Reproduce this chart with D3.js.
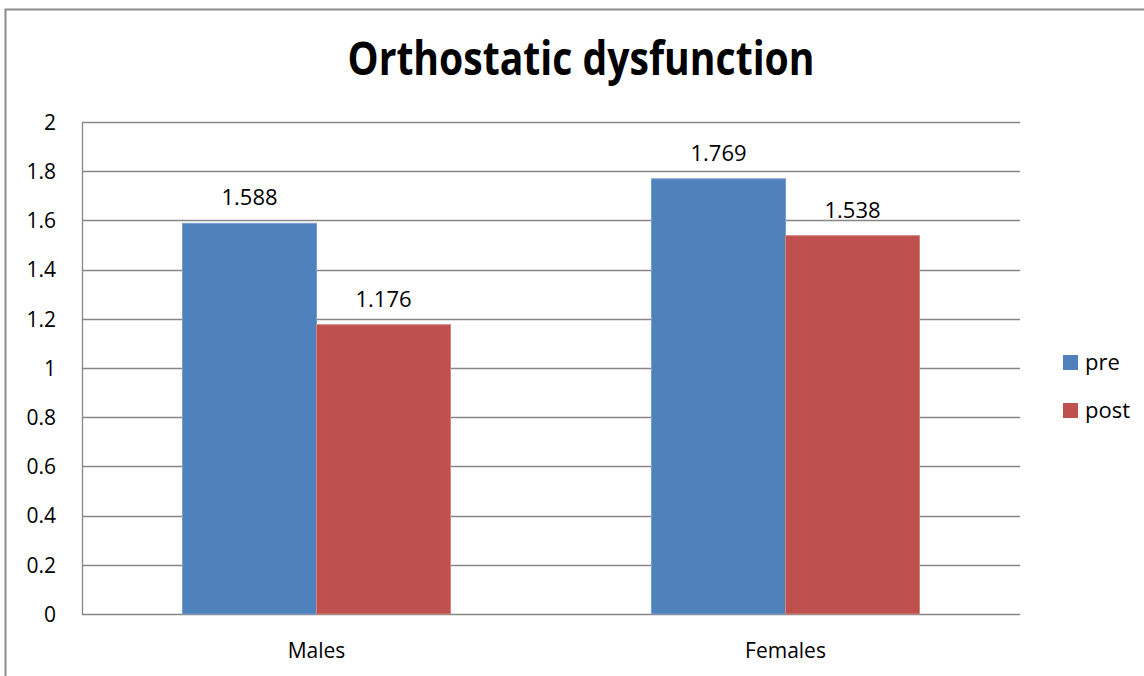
<!DOCTYPE html>
<html>
<head>
<meta charset="utf-8">
<script src="https://cdn.jsdelivr.net/npm/d3@7"></script>
<style>
  body { margin: 0; background: #fff; }
  svg text { font-family: "Open Sans", "Liberation Sans", sans-serif; fill: #000; }
</style>
</head>
<body>
<div id="chart"></div>
<script>
// data
const categories = ['Males', 'Females'];
const seriesNames = ['pre', 'post'];
const preValues = [1.588, 1.769];
const postValues = [1.176, 1.538];
const yTicks = [0, 0.2, 0.4, 0.6, 0.8, 1, 1.2, 1.4, 1.6, 1.8, 2];
const colors = ['#4F81BD', '#C0504D'];
const strokes = ['#7A9CCF', '#D08683'];

const width = 1144, height = 676;
const plot = { left: 82, right: 1020, top: 122, bottom: 614 };

const svg = d3.select('#chart').append('svg')
  .attr('width', width)
  .attr('height', height);

// outer chart border (runs off the right / bottom edge)
svg.append('rect')
  .attr('x', 5.5).attr('y', 9.5)
  .attr('width', 1200).attr('height', 800)
  .attr('fill', 'none')
  .attr('stroke', '#8c8c8c')
  .attr('stroke-width', 2);

const y = d3.scaleLinear().domain([0, 2]).range([plot.bottom, plot.top]);
const x0 = d3.scaleBand().domain(categories).range([plot.left, plot.right]);
const bw = x0.bandwidth();
const gap = bw * 1.5 / 3.5; // excel gap width 150%
const x1 = d3.scaleBand().domain(seriesNames).range([gap / 2, bw - gap / 2]);

// gridlines
svg.append('g')
  .selectAll('line')
  .data(yTicks)
  .join('line')
  .attr('x1', plot.left).attr('x2', plot.right)
  .attr('y1', d => Math.round(y(d)) + 0.5)
  .attr('y2', d => Math.round(y(d)) + 0.5)
  .attr('stroke', '#868686')
  .attr('stroke-width', 1.3);

// y axis line
svg.append('line')
  .attr('x1', plot.left + 0.5).attr('x2', plot.left + 0.5)
  .attr('y1', plot.top).attr('y2', plot.bottom + 1)
  .attr('stroke', '#868686')
  .attr('stroke-width', 1.3);

// y tick labels
const yAxis = d3.axisLeft(y).tickValues(yTicks).tickSize(0).tickPadding(26).tickFormat(d3.format('~g'));
const gy = svg.append('g')
  .attr('transform', 'translate(' + plot.left + ',0)')
  .call(yAxis);
gy.select('.domain').remove();
gy.selectAll('text')
  .style('font-size', '21px')
  .attr('dy', '0.35em');

// bars
const rows = categories.map((c, i) => ({ cat: c, vals: [preValues[i], postValues[i]] }));
const groups = svg.append('g')
  .selectAll('g')
  .data(rows)
  .join('g')
  .attr('transform', d => 'translate(' + x0(d.cat) + ',0)');

groups.selectAll('rect')
  .data(d => d.vals.map((v, j) => ({ key: seriesNames[j], v: v, j: j })))
  .join('rect')
  .attr('x', d => x1(d.key))
  .attr('y', d => y(d.v))
  .attr('width', x1.bandwidth())
  .attr('height', d => y(0) - y(d.v))
  .attr('fill', d => colors[d.j])
  .attr('stroke', d => strokes[d.j])
  .attr('stroke-width', 1);

// value labels
groups.selectAll('text')
  .data(d => d.vals.map((v, j) => ({ key: seriesNames[j], v: v })))
  .join('text')
  .attr('x', d => x1(d.key) + x1.bandwidth() / 2)
  .attr('y', d => y(d.v) - 18)
  .attr('text-anchor', 'middle')
  .style('font-size', '22px')
  .text(d => d3.format('.3f')(d.v));

// x category labels
svg.append('g')
  .selectAll('text')
  .data(categories)
  .join('text')
  .attr('x', d => x0(d) + bw / 2)
  .attr('y', 658)
  .attr('text-anchor', 'middle')
  .style('font-size', '21px')
  .text(d => d);

// title
svg.append('text')
  .attr('x', 581)
  .attr('y', 75)
  .attr('text-anchor', 'middle')
  .attr('textLength', 467)
  .attr('lengthAdjust', 'spacingAndGlyphs')
  .style('font-size', '46px')
  .style('font-weight', 'bold')
  .text('Orthostatic dysfunction');

// legend
const legend = svg.append('g')
  .selectAll('g')
  .data(seriesNames)
  .join('g')
  .attr('transform', (d, i) => 'translate(1063,' + (355 + i * 48) + ')');

legend.append('rect')
  .attr('width', 15).attr('height', 15)
  .attr('fill', (d, i) => colors[i]);

legend.append('text')
  .attr('x', 22)
  .attr('y', 7.5)
  .attr('dy', '0.35em')
  .style('font-size', '22px')
  .text(d => d);
</script>
</body>
</html>
